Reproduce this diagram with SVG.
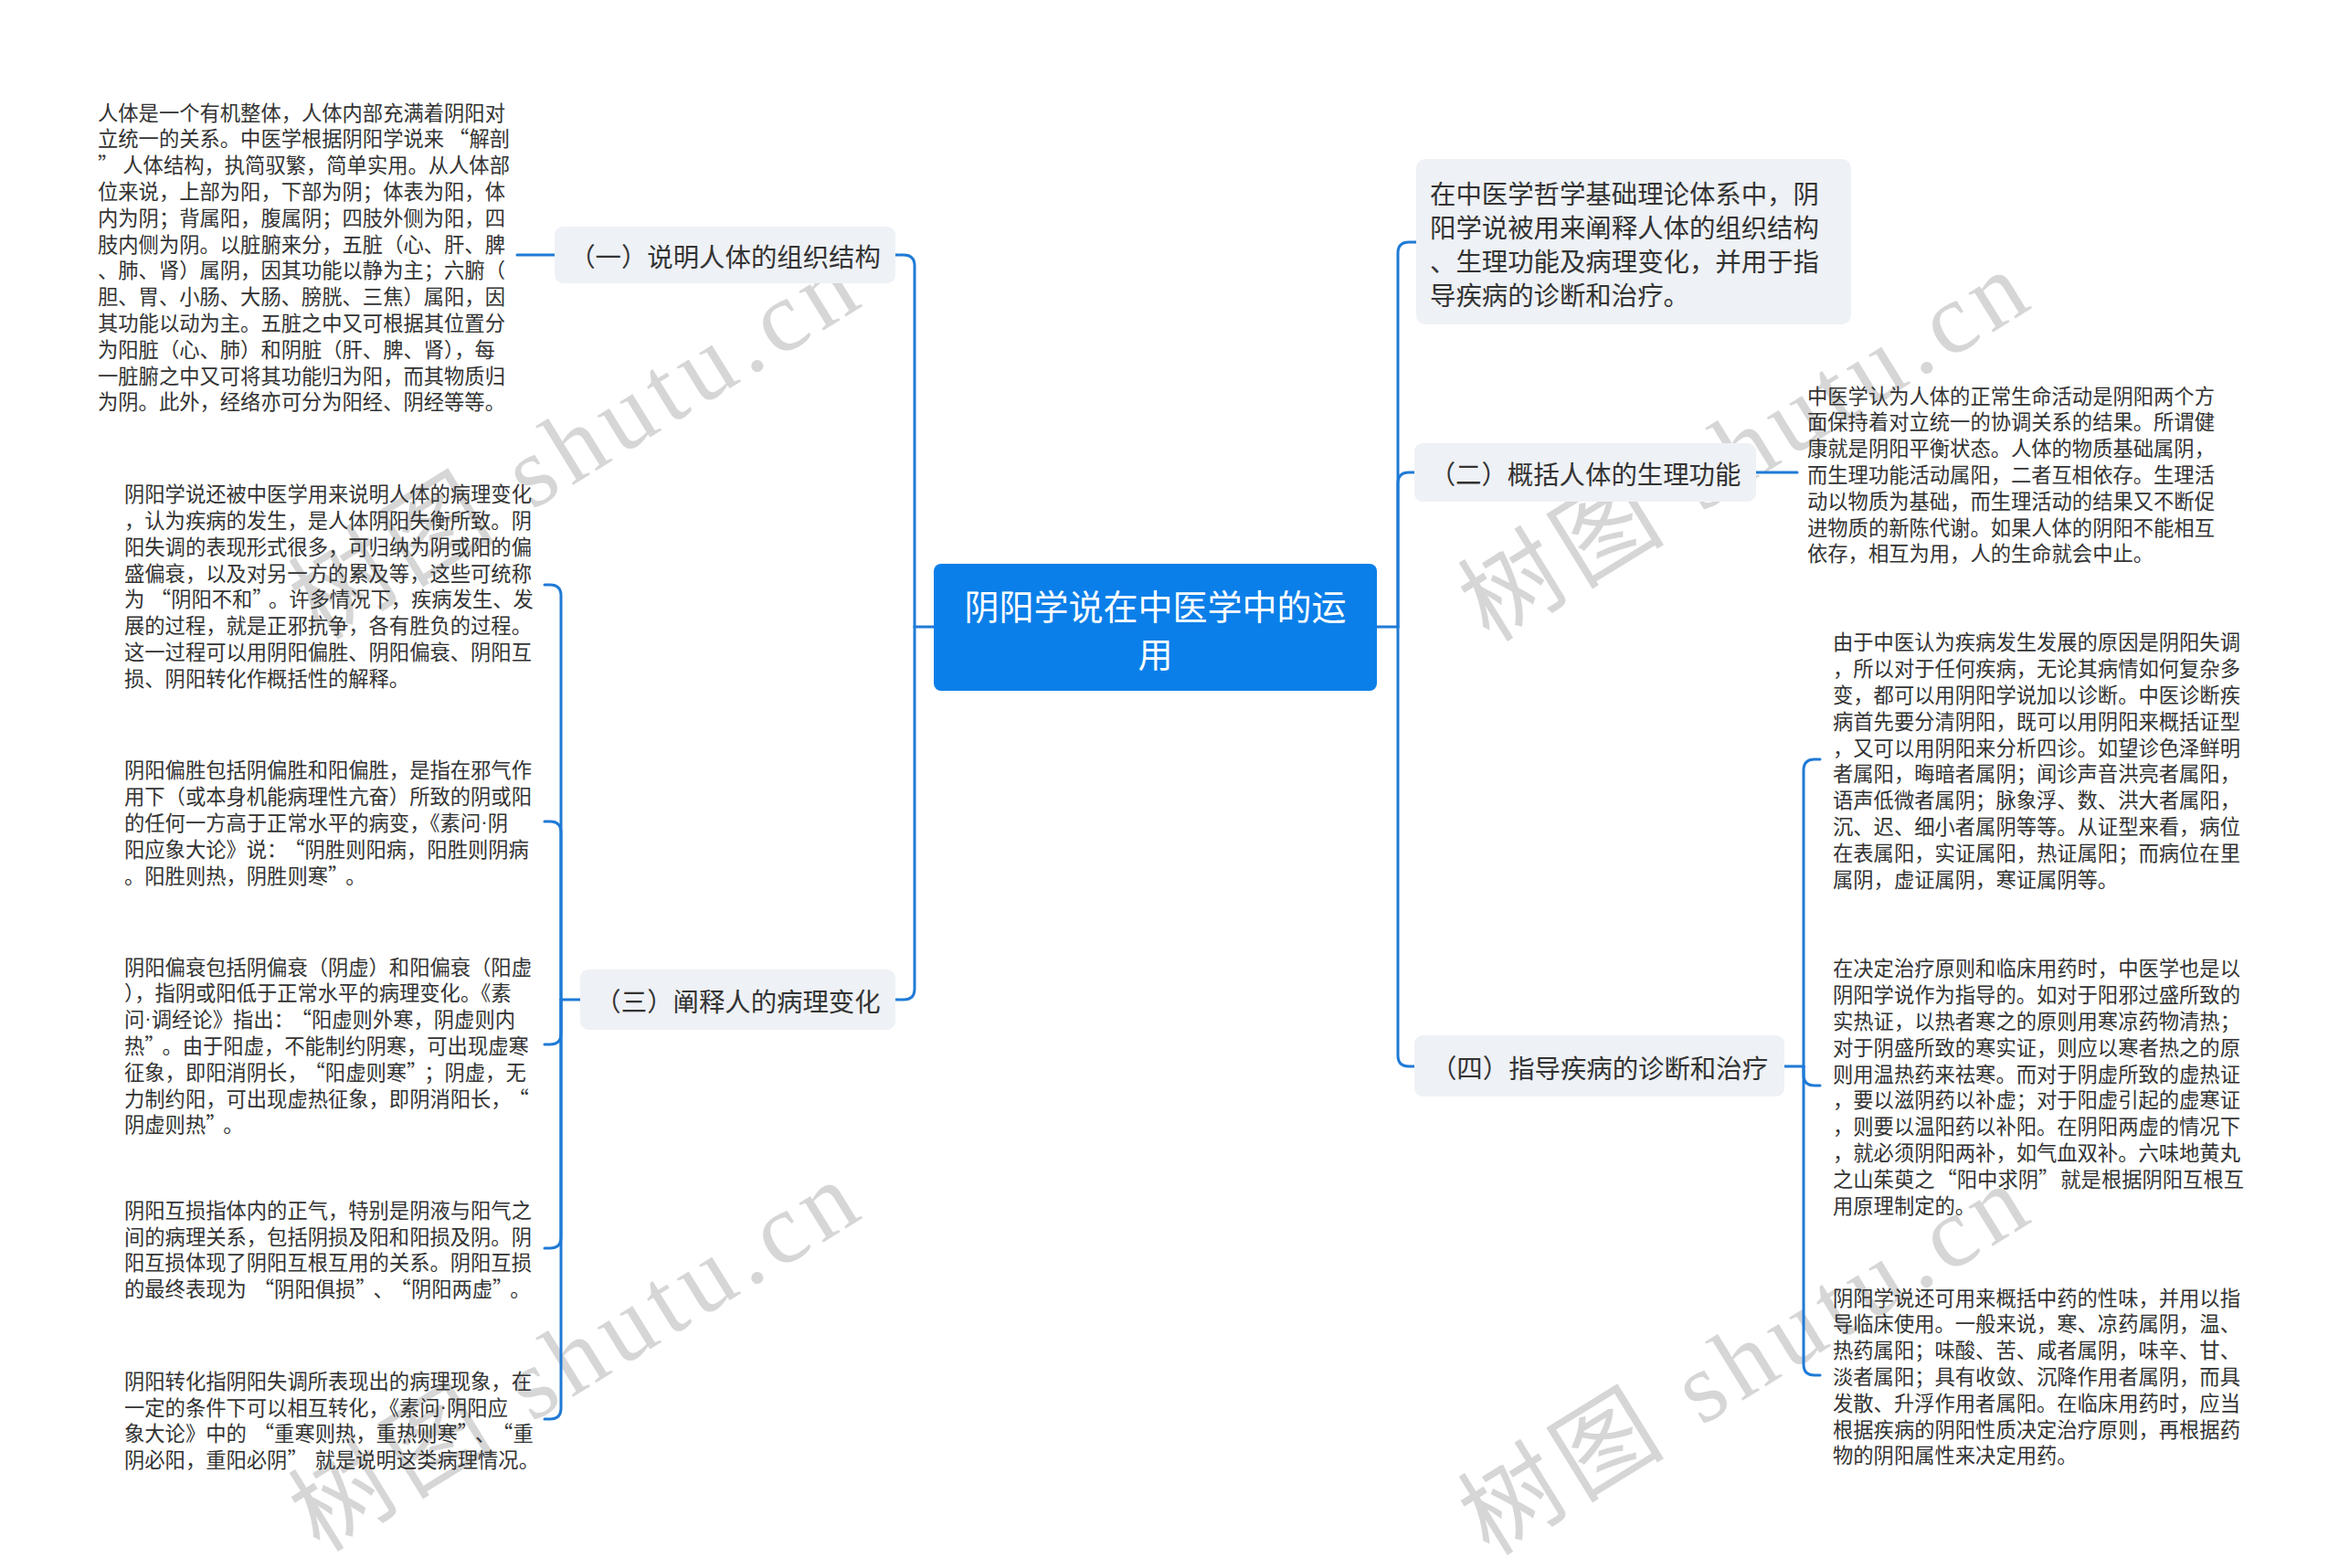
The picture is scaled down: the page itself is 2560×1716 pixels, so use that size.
<svg xmlns="http://www.w3.org/2000/svg" width="2560" height="1716" viewBox="0 0 2560 1716">
<style>
.wm{font-family:"Liberation Serif","Noto Sans CJK SC",serif;font-size:110px;fill:#d6d6d6;}
.body{font-family:"Noto Sans CJK SC","Noto Sans",sans-serif;font-size:22.3px;fill:#333333;dominant-baseline:central;}
.dot{font-family:"Liberation Sans",sans-serif;}
.br{font-family:"Noto Sans CJK SC","Noto Sans",sans-serif;font-size:28.4px;fill:#333333;dominant-baseline:central;}
.root{font-family:"Noto Sans CJK SC","Noto Sans",sans-serif;font-size:38px;fill:#ffffff;dominant-baseline:central;text-anchor:middle;}
.box{fill:#eef1f5;}
.conn{fill:none;stroke:#1f7ad6;stroke-width:3;stroke-linecap:round;}
</style>
<rect width="2560" height="1716" fill="#ffffff"/>
<g id="watermarks">
<text class="wm" transform="translate(350,702) rotate(-31.7)" textLength="700" lengthAdjust="spacing">树图 shutu.cn</text>
<text class="wm" transform="translate(350,1700) rotate(-31.7)" textLength="700" lengthAdjust="spacing">树图 shutu.cn</text>
<text class="wm" transform="translate(1630,704) rotate(-31.7)" textLength="700" lengthAdjust="spacing">树图 shutu.cn</text>
<text class="wm" transform="translate(1630,1704) rotate(-31.7)" textLength="700" lengthAdjust="spacing">树图 shutu.cn</text>
</g>
<g id="connectors">
<path class="conn" d="M 1022 686 H 1001"/>
<path class="conn" d="M 1001 686 V 291 Q 1001 279 989 279 H 980"/>
<path class="conn" d="M 1001 686 V 1082 Q 1001 1094 989 1094 H 980"/>
<path class="conn" d="M 607 279 H 566"/>
<path class="conn" d="M 635 1094 H 614"/>
<path class="conn" d="M 614 1094 V 652 Q 614 640 602 640 H 596"/>
<path class="conn" d="M 614 1094 V 911 Q 614 899 602 899 H 596"/>
<path class="conn" d="M 614 1094 V 1131 Q 614 1143 602 1143 H 596"/>
<path class="conn" d="M 614 1094 V 1354 Q 614 1366 602 1366 H 596"/>
<path class="conn" d="M 614 1094 V 1541 Q 614 1553 602 1553 H 596"/>
<path class="conn" d="M 1507 686 H 1530"/>
<path class="conn" d="M 1530 686 V 277 Q 1530 265 1542 265 H 1550"/>
<path class="conn" d="M 1530 686 V 529 Q 1530 517 1542 517 H 1548"/>
<path class="conn" d="M 1530 686 V 1155 Q 1530 1167 1542 1167 H 1548"/>
<path class="conn" d="M 1922 517 H 1967"/>
<path class="conn" d="M 1953 1167 H 1974"/>
<path class="conn" d="M 1974 1167 V 843 Q 1974 831 1986 831 H 1992"/>
<path class="conn" d="M 1974 1167 V 1176 Q 1974 1188 1986 1188 H 1992"/>
<path class="conn" d="M 1974 1167 V 1493 Q 1974 1505 1986 1505 H 1992"/>
</g>
<g id="root">
<rect x="1022" y="617" width="485" height="139" rx="8" fill="#0b7fe9"/>
<text class="root"><tspan x="1264.5" y="661">阴阳学说在中医学中的运</tspan><tspan x="1264.5" y="713">用</tspan></text>
</g>
<g id="b1">
<rect class="box" x="607" y="248" width="373" height="62" rx="9"/>
<text class="br" x="793.5" y="279" text-anchor="middle">（一）说明人体的组织结构</text>
</g>
<g id="b1c1">
<text class="body"><tspan x="107" y="121.6">人体是一个有机整体，人体内部充满着阴阳对</tspan><tspan x="107" y="150.4">立统一的关系。中医学根据阴阳学说来<tspan dx="5">“</tspan>解剖</tspan><tspan x="107" y="179.2">”<tspan dx="5">人体结构，执简驭繁，简单实用。从人体部</tspan></tspan><tspan x="107" y="208">位来说，上部为阳，下部为阴；体表为阳，体</tspan><tspan x="107" y="236.8">内为阴；背属阳，腹属阴；四肢外侧为阳，四</tspan><tspan x="107" y="265.6">肢内侧为阴。以脏腑来分，五脏（心、肝、脾</tspan><tspan x="107" y="294.4">、肺、肾）属阴，因其功能以静为主；六腑（</tspan><tspan x="107" y="323.2">胆、胃、小肠、大肠、膀胱、三焦）属阳，因</tspan><tspan x="107" y="352">其功能以动为主。五脏之中又可根据其位置分</tspan><tspan x="107" y="380.8">为阳脏（心、肺）和阴脏（肝、脾、肾），每</tspan><tspan x="107" y="409.6">一脏腑之中又可将其功能归为阳，而其物质归</tspan><tspan x="107" y="438.4">为阴。此外，经络亦可分为阳经、阴经等等。</tspan></text>
</g>
<g id="b3">
<rect class="box" x="635" y="1061" width="345" height="66" rx="9"/>
<text class="br" x="807.5" y="1094" text-anchor="middle">（三）阐释人的病理变化</text>
</g>
<g id="b3c1">
<text class="body"><tspan x="136" y="539.2">阴阳学说还被中医学用来说明人体的病理变化</tspan><tspan x="136" y="568">，认为疾病的发生，是人体阴阳失衡所致。阴</tspan><tspan x="136" y="596.8">阳失调的表现形式很多，可归纳为阴或阳的偏</tspan><tspan x="136" y="625.6">盛偏衰，以及对另一方的累及等，这些可统称</tspan><tspan x="136" y="654.4">为<tspan dx="6.5">“</tspan>阴阳不和”<tspan dx="6.5">。许多情况下，疾病发生、发</tspan></tspan><tspan x="136" y="683.2">展的过程，就是正邪抗争，各有胜负的过程。</tspan><tspan x="136" y="712">这一过程可以用阴阳偏胜、阴阳偏衰、阴阳互</tspan><tspan x="136" y="740.8">损、阴阳转化作概括性的解释。</tspan></text>
</g>
<g id="b3c2">
<text class="body"><tspan x="136" y="841.4">阴阳偏胜包括阴偏胜和阳偏胜，是指在邪气作</tspan><tspan x="136" y="870.2">用下（或本身机能病理性亢奋）所致的阴或阳</tspan><tspan x="136" y="899">的任何一方高于正常水平的病变，《素问<tspan class="dot">·</tspan>阴</tspan><tspan x="136" y="927.8">阳应象大论》说：<tspan dx="8">“</tspan>阴胜则阳病，阳胜则阴病</tspan><tspan x="136" y="956.6">。阳胜则热，阴胜则寒”<tspan dx="8">。</tspan></tspan></text>
</g>
<g id="b3c3">
<text class="body"><tspan x="136" y="1056.6">阴阳偏衰包括阴偏衰（阴虚）和阳偏衰（阳虚</tspan><tspan x="136" y="1085.4">），指阴或阳低于正常水平的病理变化。《素</tspan><tspan x="136" y="1114.2">问<tspan class="dot">·</tspan>调经论》指出：<tspan dx="8">“</tspan>阳虚则外寒，阴虚则内</tspan><tspan x="136" y="1143">热”<tspan dx="8">。由于阳虚，不能制约阴寒，可出现虚寒</tspan></tspan><tspan x="136" y="1171.8">征象，即阳消阴长，<tspan dx="8">“</tspan>阳虚则寒”<tspan dx="8">；阴虚，无</tspan></tspan><tspan x="136" y="1200.6">力制约阳，可出现虚热征象，即阴消阳长，<tspan dx="8">“</tspan></tspan><tspan x="136" y="1229.4">阴虚则热”<tspan dx="8">。</tspan></tspan></text>
</g>
<g id="b3c4">
<text class="body"><tspan x="136" y="1322.8">阴阳互损指体内的正气，特别是阴液与阳气之</tspan><tspan x="136" y="1351.6">间的病理关系，包括阴损及阳和阳损及阴。阴</tspan><tspan x="136" y="1380.4">阳互损体现了阴阳互根互用的关系。阴阳互损</tspan><tspan x="136" y="1409.2">的最终表现为<tspan dx="8">“</tspan>阴阳俱损”<tspan dx="8">、</tspan><tspan dx="8">“</tspan>阴阳两虚”<tspan dx="8">。</tspan></tspan></text>
</g>
<g id="b3c5">
<text class="body"><tspan x="136" y="1509.8">阴阳转化指阴阳失调所表现出的病理现象，在</tspan><tspan x="136" y="1538.6">一定的条件下可以相互转化，《素问<tspan class="dot">·</tspan>阴阳应</tspan><tspan x="136" y="1567.4">象大论》中的<tspan dx="8">“</tspan>重寒则热，重热则寒”<tspan dx="8">、</tspan><tspan dx="8">“</tspan>重</tspan><tspan x="136" y="1596.2">阴必阳，重阳必阴”<tspan dx="8">就是说明这类病理情况。</tspan></tspan></text>
</g>
<g id="r1">
<rect class="box" x="1550" y="174" width="476" height="181" rx="10"/>
<text class="br"><tspan x="1565" y="210">在中医学哲学基础理论体系中，阴</tspan><tspan x="1565" y="247">阳学说被用来阐释人体的组织结构</tspan><tspan x="1565" y="284">、生理功能及病理变化，并用于指</tspan><tspan x="1565" y="321">导疾病的诊断和治疗。</tspan></text>
</g>
<g id="b2">
<rect class="box" x="1548" y="485" width="374" height="64" rx="9"/>
<text class="br" x="1735" y="517" text-anchor="middle">（二）概括人体的生理功能</text>
</g>
<g id="b2c1">
<text class="body"><tspan x="1978" y="431.6">中医学认为人体的正常生命活动是阴阳两个方</tspan><tspan x="1978" y="460.4">面保持着对立统一的协调关系的结果。所谓健</tspan><tspan x="1978" y="489.2">康就是阴阳平衡状态。人体的物质基础属阴，</tspan><tspan x="1978" y="518">而生理功能活动属阳，二者互相依存。生理活</tspan><tspan x="1978" y="546.8">动以物质为基础，而生理活动的结果又不断促</tspan><tspan x="1978" y="575.6">进物质的新陈代谢。如果人体的阴阳不能相互</tspan><tspan x="1978" y="604.4">依存，相互为用，人的生命就会中止。</tspan></text>
</g>
<g id="b4">
<rect class="box" x="1548" y="1133" width="405" height="67" rx="9"/>
<text class="br" x="1750.5" y="1167" text-anchor="middle">（四）指导疾病的诊断和治疗</text>
</g>
<g id="b4c1">
<text class="body"><tspan x="2006" y="701.4">由于中医认为疾病发生发展的原因是阴阳失调</tspan><tspan x="2006" y="730.2">，所以对于任何疾病，无论其病情如何复杂多</tspan><tspan x="2006" y="759">变，都可以用阴阳学说加以诊断。中医诊断疾</tspan><tspan x="2006" y="787.8">病首先要分清阴阳，既可以用阴阳来概括证型</tspan><tspan x="2006" y="816.6">，又可以用阴阳来分析四诊。如望诊色泽鲜明</tspan><tspan x="2006" y="845.4">者属阳，晦暗者属阴；闻诊声音洪亮者属阳，</tspan><tspan x="2006" y="874.2">语声低微者属阴；脉象浮、数、洪大者属阳，</tspan><tspan x="2006" y="903">沉、迟、细小者属阴等等。从证型来看，病位</tspan><tspan x="2006" y="931.8">在表属阳，实证属阳，热证属阳；而病位在里</tspan><tspan x="2006" y="960.6">属阴，虚证属阴，寒证属阴等。</tspan></text>
</g>
<g id="b4c2">
<text class="body"><tspan x="2006" y="1058.4">在决定治疗原则和临床用药时，中医学也是以</tspan><tspan x="2006" y="1087.2">阴阳学说作为指导的。如对于阳邪过盛所致的</tspan><tspan x="2006" y="1116">实热证，以热者寒之的原则用寒凉药物清热；</tspan><tspan x="2006" y="1144.8">对于阴盛所致的寒实证，则应以寒者热之的原</tspan><tspan x="2006" y="1173.6">则用温热药来祛寒。而对于阴虚所致的虚热证</tspan><tspan x="2006" y="1202.4">，要以滋阴药以补虚；对于阳虚引起的虚寒证</tspan><tspan x="2006" y="1231.2">，则要以温阳药以补阳。在阴阳两虚的情况下</tspan><tspan x="2006" y="1260">，就必须阴阳两补，如气血双补。六味地黄丸</tspan><tspan x="2006" y="1288.8">之山茱萸之<tspan dx="2">“</tspan>阳中求阴”<tspan dx="2">就是根据阴阳互根互</tspan></tspan><tspan x="2006" y="1317.6">用原理制定的。</tspan></text>
</g>
<g id="b4c3">
<text class="body"><tspan x="2006" y="1418.6">阴阳学说还可用来概括中药的性味，并用以指</tspan><tspan x="2006" y="1447.4">导临床使用。一般来说，寒、凉药属阴，温、</tspan><tspan x="2006" y="1476.2">热药属阳；味酸、苦、咸者属阴，味辛、甘、</tspan><tspan x="2006" y="1505">淡者属阳；具有收敛、沉降作用者属阴，而具</tspan><tspan x="2006" y="1533.8">发散、升浮作用者属阳。在临床用药时，应当</tspan><tspan x="2006" y="1562.6">根据疾病的阴阳性质决定治疗原则，再根据药</tspan><tspan x="2006" y="1591.4">物的阴阳属性来决定用药。</tspan></text>
</g>
</svg>
